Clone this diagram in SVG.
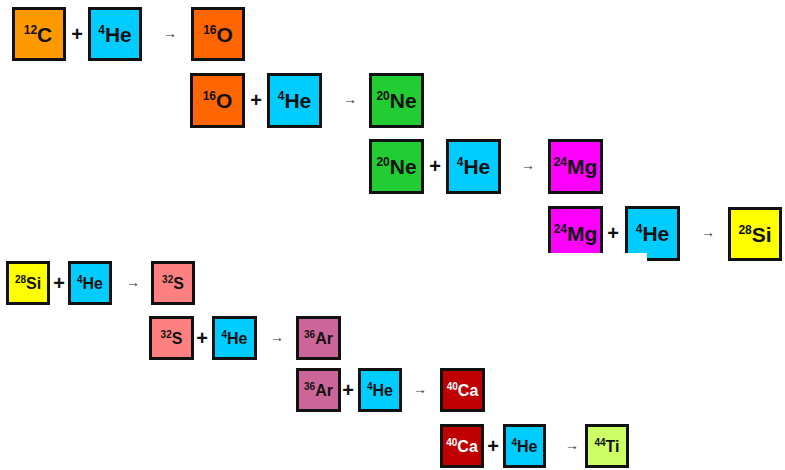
<svg xmlns="http://www.w3.org/2000/svg" width="785" height="470" viewBox="0 0 785 470">
<style>
.box{stroke:#111;stroke-width:3}
.lbl{font-family:"Liberation Sans",Arial,sans-serif;font-weight:bold;text-anchor:middle;fill:#111}
.big{font-size:21px}
.sm{font-size:16px}
.big .sup{font-size:12px}
.sm .sup{font-size:10px}
.op{font-family:"Liberation Sans",Arial,sans-serif;text-anchor:middle;fill:#111}
.plus{font-size:20px;font-weight:bold}
.arr{font-size:14px;fill:#333}
.C{fill:#ff9900}.He{fill:#00ccff}.O{fill:#ff6600}.Ne{fill:#22cc33}.Mg{fill:#ff00ff}.Si{fill:#ffff00}.S{fill:#ff8080}.Ar{fill:#cc6699}.Ca{fill:#c00000}.Ti{fill:#ccff66}
</style>
<rect width="785" height="470" fill="#fff"/>
<!-- row 1 -->
<g id="r1-C12"><rect class="box C" x="13.5" y="8.5" width="51" height="51"/><text class="lbl big" x="38" y="42"><tspan class="sup" dy="-8">12</tspan><tspan dy="8">C</tspan></text></g>
<g id="r1-He4"><rect class="box He" x="89.5" y="8.5" width="51" height="51"/><text class="lbl big" x="115" y="42"><tspan class="sup" dy="-8">4</tspan><tspan dy="8">He</tspan></text></g>
<g id="r1-O16"><rect class="box O" x="192.5" y="8.5" width="51" height="51"/><text class="lbl big" x="218" y="42"><tspan class="sup" dy="-8">16</tspan><tspan dy="8">O</tspan></text></g>
<!-- row 2 -->
<g id="r2-O16"><rect class="box O" x="191.5" y="74.5" width="52" height="52"/><text class="lbl big" x="217.5" y="108"><tspan class="sup" dy="-8">16</tspan><tspan dy="8">O</tspan></text></g>
<g id="r2-He4"><rect class="box He" x="268.5" y="74.5" width="52" height="52"/><text class="lbl big" x="294.5" y="108"><tspan class="sup" dy="-8">4</tspan><tspan dy="8">He</tspan></text></g>
<g id="r2-Ne20"><rect class="box Ne" x="370.5" y="74.5" width="52" height="52"/><text class="lbl big" x="396.5" y="108"><tspan class="sup" dy="-8">20</tspan><tspan dy="8">Ne</tspan></text></g>
<!-- row 3 -->
<g id="r3-Ne20"><rect class="box Ne" x="370.5" y="140.5" width="52" height="52"/><text class="lbl big" x="396.5" y="174"><tspan class="sup" dy="-8">20</tspan><tspan dy="8">Ne</tspan></text></g>
<g id="r3-He4"><rect class="box He" x="447.5" y="140.5" width="52" height="52"/><text class="lbl big" x="473.5" y="174"><tspan class="sup" dy="-8">4</tspan><tspan dy="8">He</tspan></text></g>
<g id="r3-Mg24"><rect class="box Mg" x="549.5" y="140.5" width="52" height="52"/><text class="lbl big" x="575.5" y="174"><tspan class="sup" dy="-8">24</tspan><tspan dy="8">Mg</tspan></text></g>
<!-- row 4 -->
<g id="r4-Mg24"><rect class="box Mg" x="549.5" y="207.5" width="52" height="52"/><text class="lbl big" x="575.5" y="241"><tspan class="sup" dy="-8">24</tspan><tspan dy="8">Mg</tspan></text></g>
<g id="r4-He4"><rect class="box He" x="626.5" y="207.5" width="52" height="52"/><text class="lbl big" x="652.5" y="241"><tspan class="sup" dy="-8">4</tspan><tspan dy="8">He</tspan></text></g>
<rect id="r4-mask" x="545" y="253" width="102" height="10" fill="#fff"/>
<g id="r4-Si28"><rect class="box Si" x="729.5" y="208.5" width="51" height="51"/><text class="lbl big" x="755" y="242"><tspan class="sup" dy="-8">28</tspan><tspan dy="8">Si</tspan></text></g>
<!-- row 5 -->
<g id="r5-Si28"><rect class="box Si" x="7.5" y="262.5" width="41" height="41"/><text class="lbl sm" x="28" y="289"><tspan class="sup" dy="-6">28</tspan><tspan dy="6">Si</tspan></text></g>
<g id="r5-He4"><rect class="box He" x="69.5" y="262.5" width="41" height="41"/><text class="lbl sm" x="90" y="289"><tspan class="sup" dy="-6">4</tspan><tspan dy="6">He</tspan></text></g>
<g id="r5-S32"><rect class="box S" x="152.5" y="262.5" width="41" height="41"/><text class="lbl sm" x="173" y="289"><tspan class="sup" dy="-6">32</tspan><tspan dy="6">S</tspan></text></g>
<!-- row 6 -->
<g id="r6-S32"><rect class="box S" x="150.5" y="317.5" width="42" height="41"/><text class="lbl sm" x="171.5" y="344"><tspan class="sup" dy="-6">32</tspan><tspan dy="6">S</tspan></text></g>
<g id="r6-He4"><rect class="box He" x="213.5" y="317.5" width="42" height="41"/><text class="lbl sm" x="234.5" y="344"><tspan class="sup" dy="-6">4</tspan><tspan dy="6">He</tspan></text></g>
<g id="r6-Ar36"><rect class="box Ar" x="297.5" y="317.5" width="42" height="41"/><text class="lbl sm" x="318.5" y="344"><tspan class="sup" dy="-6">36</tspan><tspan dy="6">Ar</tspan></text></g>
<!-- row 7 -->
<g id="r7-Ar36"><rect class="box Ar" x="297.5" y="369.5" width="42" height="41"/><text class="lbl sm" x="318.5" y="396"><tspan class="sup" dy="-6">36</tspan><tspan dy="6">Ar</tspan></text></g>
<g id="r7-He4"><rect class="box He" x="359.5" y="369.5" width="41" height="41"/><text class="lbl sm" x="380" y="396"><tspan class="sup" dy="-6">4</tspan><tspan dy="6">He</tspan></text></g>
<g id="r7-Ca40"><rect class="box Ca" x="441.5" y="369.5" width="42" height="41"/><text class="lbl sm" x="462.5" y="396" fill="#fff" style="fill:#fff"><tspan class="sup" dy="-6">40</tspan><tspan dy="6">Ca</tspan></text></g>
<!-- row 8 -->
<g id="r8-Ca40"><rect class="box Ca" x="441.5" y="425.5" width="41" height="41"/><text class="lbl sm" x="462" y="452" style="fill:#fff"><tspan class="sup" dy="-6">40</tspan><tspan dy="6">Ca</tspan></text></g>
<g id="r8-He4"><rect class="box He" x="504.5" y="425.5" width="40" height="41"/><text class="lbl sm" x="524.5" y="452"><tspan class="sup" dy="-6">4</tspan><tspan dy="6">He</tspan></text></g>
<g id="r8-Ti44"><rect class="box Ti" x="586.5" y="425.5" width="41" height="41"/><text class="lbl sm" x="607" y="452"><tspan class="sup" dy="-6">44</tspan><tspan dy="6">Ti</tspan></text></g>
<!-- operators -->
<g id="connectors">
<text class="op plus" x="77" y="41">+</text><text class="op arr" x="170" y="38">→</text>
<text class="op plus" x="256" y="107">+</text><text class="op arr" x="350" y="104">→</text>
<text class="op plus" x="435" y="173">+</text><text class="op arr" x="528" y="170">→</text>
<text class="op plus" x="613" y="240">+</text><text class="op arr" x="708" y="237">→</text>
<text class="op plus" x="59" y="290">+</text><text class="op arr" x="133" y="287">→</text>
<text class="op plus" x="202" y="345">+</text><text class="op arr" x="277" y="342">→</text>
<text class="op plus" x="348" y="397">+</text><text class="op arr" x="420" y="394">→</text>
<text class="op plus" x="493" y="453">+</text><text class="op arr" x="572" y="450">→</text>
</g>
</svg>
